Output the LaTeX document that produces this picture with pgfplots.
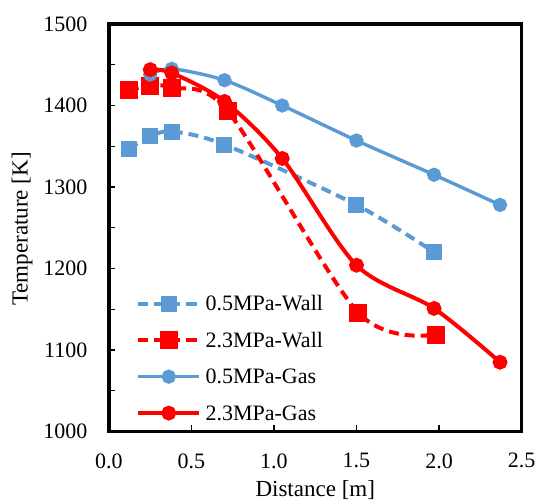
\documentclass[border=0pt]{standalone}
\usepackage{fontspec}
\setmainfont{Liberation Serif}
\usepackage{pgfplots}
\pgfplotsset{compat=1.18}
\definecolor{xlblue}{RGB}{91,155,213}
\definecolor{xlred}{RGB}{255,0,0}
\begin{document}
\begin{tikzpicture}
\begin{axis}[
  scale only axis,
  width=206.25pt, height=203.75pt,
  xmin=0, xmax=2.5, ymin=1000, ymax=1500,
  xtick={0,0.5,1,1.5,2,2.5},
  ytick={1000,1100,1200,1300,1400,1500},
  minor ytick={1050,1150,1250,1350,1450},
  xtick pos=bottom, ytick pos=left,
  tick align=inside,
  major tick length=3pt, minor tick length=3pt,
  every tick/.style={black, line width=0.6pt},
  minor tick style={black, line width=0.6pt},
  axis line style={line width=1.6pt, black},
  font=\fontsize{11}{13}\selectfont,
  /pgf/number format/assume math mode=true,
  xticklabel style={/pgf/number format/fixed, /pgf/number format/fixed zerofill, /pgf/number format/precision=1},
  yticklabel style={/pgf/number format/1000 sep={}},
  every x tick label/.append style={inner sep=0pt, anchor=north, yshift=-10.75pt},
  every y tick label/.append style={inner sep=0pt, anchor=east, xshift=-10.65pt},
  xlabel={Distance [m]},
  ylabel={Temperature [K]},
  xlabel style={inner sep=0pt, anchor=north, at={([yshift=-24.2pt]axis description cs:0.5,0)}, font=\fontsize{11.5}{13}\selectfont},
  ylabel style={inner sep=0pt, anchor=center, at={([xshift=-43.5pt,yshift=-0.6pt]axis description cs:0,0.5)}, font=\fontsize{11.5}{13}\selectfont},
  legend cell align=left,
  legend style={draw=none, fill=none, at={(axis description cs:0,0)}, anchor=south west,
    xshift=13.6pt, yshift=0.1pt, inner sep=0pt, outer sep=0pt, row sep=0pt, column sep=2.1pt,
    nodes={inner xsep=0pt, inner ysep=4.6pt, text height=8pt, text depth=1pt},
    font=\fontsize{11}{13}\selectfont},
  legend image code/.code={\draw[#1,mark repeat=2,mark phase=2] plot coordinates {(0pt,0pt) (15.3pt,0pt) (30.6pt,0pt)};},
]
\addplot[xlblue, line width=2pt, dash pattern=on 5pt off 3pt, smooth, mark=square*, mark size=3pt, mark options={solid, fill=xlblue, draw=xlblue}]
  coordinates {(0.12,1347) (0.25,1362) (0.38,1368) (0.70,1352) (1.50,1278) (1.97,1220)};
\addlegendentry{0.5MPa-Wall}
\addplot[xlred, line width=2pt, dash pattern=on 5pt off 3pt, smooth, mark=square*, mark size=3.5pt, mark options={solid, fill=xlred, draw=xlred}]
  coordinates {(0.12,1419) (0.25,1424) (0.38,1422) (0.72,1393) (1.51,1146) (1.98,1119)};
\addlegendentry{2.3MPa-Wall}
\addplot[xlblue, line width=1.7pt, smooth, mark=*, mark size=2.7pt, mark options={solid, fill=xlblue, draw=xlblue}]
  coordinates {(0.25,1438) (0.38,1445) (0.70,1431) (1.05,1400) (1.50,1357) (1.97,1315) (2.37,1278)};
\addlegendentry{0.5MPa-Gas}
\addplot[xlred, line width=2pt, smooth, mark=*, mark size=2.7pt, mark options={solid, fill=xlred, draw=xlred}]
  coordinates {(0.25,1444) (0.38,1440) (0.70,1405) (1.05,1335) (1.50,1204) (1.97,1151) (2.37,1085)};
\addlegendentry{2.3MPa-Gas}
\coordinate (sw) at (rel axis cs:0,0);
\coordinate (ne) at (rel axis cs:1,1);
\end{axis}
\pgfresetboundingbox
\path[use as bounding box] ([xshift=-54.5pt,yshift=-34.75pt]sw) rectangle ([xshift=7.25pt,yshift=12pt]ne);
\end{tikzpicture}
\end{document}
